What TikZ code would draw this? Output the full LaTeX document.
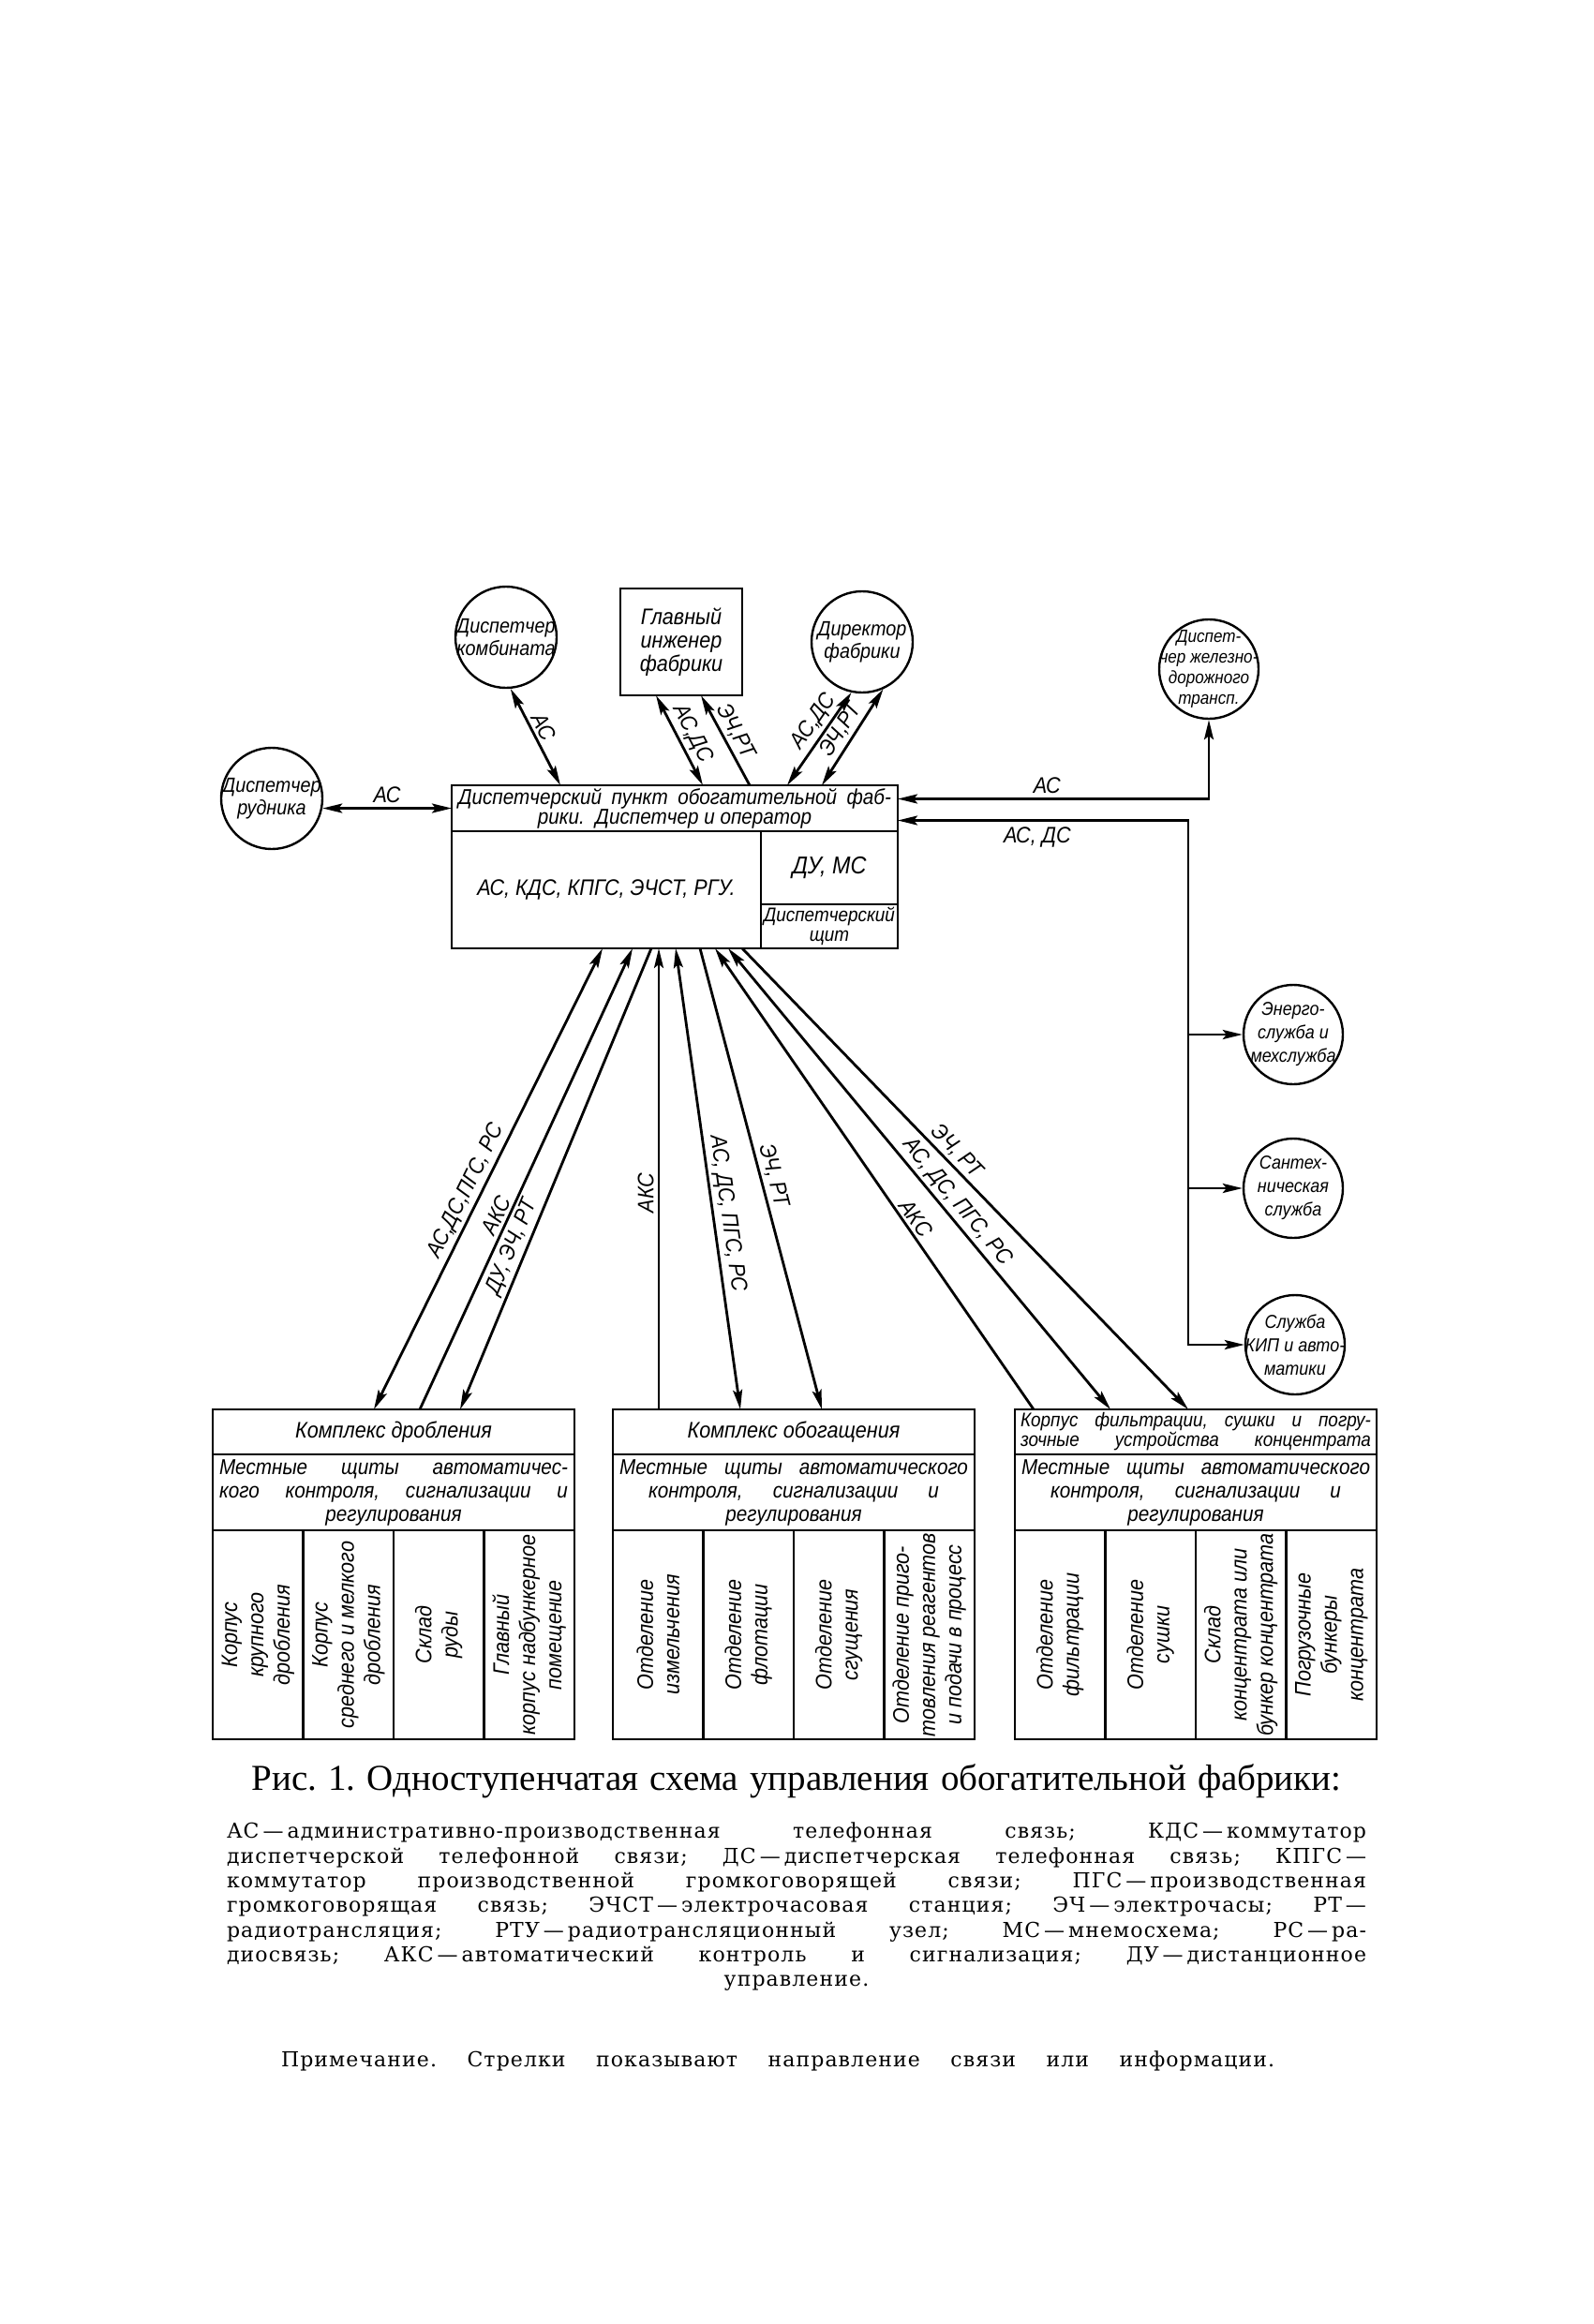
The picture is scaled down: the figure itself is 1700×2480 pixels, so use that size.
\documentclass[tikz,border=0pt]{standalone}
\usepackage{fontspec}
\usepackage{tikz}
\usetikzlibrary{positioning,arrows.meta}

\newfontfamily\draftfont[FakeStretch=0.9]{Liberation Sans}
\newfontfamily\capfont{Liberation Serif}
\newfontfamily\legfont[LetterSpace=5]{DejaVu Serif}

\newcommand{\dfont}[2]{\draftfont\itshape\fontsize{#1}{#2}\selectfont}
\newcommand{\fillto}[2]{\makebox[#1][s]{#2}}
\newcommand{\dsh}{\kern4pt—\kern4pt}
\frenchspacing

\begin{document}
\begin{tikzpicture}
  [x=1pt,y=-1pt,>={Stealth[length=21pt,width=10pt,inset=4pt]},
   every node/.style={font=\dfont{24}{25}},
   box/.style={draw,rectangle,line width=2.8pt,inner sep=0pt,outer sep=0pt,align=center},
   circ/.style={draw,circle,minimum size=108pt,inner sep=0pt,line width=2.4pt},
   ctxt/.style={align=center,font=\dfont{22}{24}},
   col/.style={box,minimum width=96.5pt,minimum height=223pt},
   vlbl/.style={rotate=90,align=center,font=\dfont{24}{28}},
   sub/.style={box,minimum width=386pt,minimum height=81pt,font=\dfont{23}{25}},
   link/.style={line width=2.8pt},
   lbl/.style={sloped,above,inner sep=3pt}]

  \useasboundingbox (0,0) rectangle (1700,2480);

  % top row
  \node[circ,label={[ctxt]center:Диспетчер\\комбината}] (komb) at (540,680) {};
  \node[box,minimum width=130pt,minimum height=114pt] (eng) at (727,685) {Главный\\инженер\\фабрики};
  \node[circ,label={[ctxt]center:Директор\\фабрики}] (dir) at (920,685) {};
  \node[circ,minimum size=106pt,label={[ctxt,font=\dfont{19}{22}]center:Диспет-\\чер железно-\\дорожного\\трансп.}] (rail) at (1290,714) {};
  \node[circ,label={[ctxt]center:Диспетчер\\рудника}] (rud) at (290,852) {};

  % dispatcher point
  \node[box,minimum width=476pt,minimum height=49pt,font=\dfont{23}{21}] (disp) at (720,862.5)
    {\fillto{462pt}{Диспетчерский пункт обогатительной фаб-}\\рики.\ \ Диспетчер и оператор};
  \node[box,minimum width=330pt,minimum height=125pt,below right=0pt of disp.south west] (dispbody)
    {АС, КДС, КПГС, ЭЧСТ, РГУ.};
  \node[box,minimum width=146pt,minimum height=78pt,font=\dfont{26}{26},below left=0pt of disp.south east] (dispdu) {ДУ, МС};
  \node[box,minimum width=146pt,minimum height=47pt,font=\dfont{21}{21},below=0pt of dispdu] (dispsch) {Диспетчерский\\щит};

  % services on the right
  \node[circ,minimum size=106pt,label={[ctxt,font=\dfont{20}{25}]center:Энерго-\\служба и\\мехслужба}] (energ) at (1380,1104) {};
  \node[circ,minimum size=106pt,label={[ctxt,font=\dfont{20}{25}]center:Сантех-\\ническая\\служба}] (sant) at (1380,1268) {};
  \node[circ,minimum size=106pt,label={[ctxt,font=\dfont{20}{25}]center:Служба\\КИП и авто-\\матики}] (kip) at (1382,1435) {};
  \coordinate (bus) at (1268,1435);

  % crushing complex
  \node[box,minimum width=386pt,minimum height=48pt] (drob) at (420,1528) {Комплекс дробления};
  \node[sub,below=0pt of drob] (drobsub)
    {\fillto{372pt}{Местные щиты автоматичес-}\\\fillto{372pt}{кого контроля, сигнализации и}\\регулирования};
  \node[col,below right=0pt of drobsub.south west,label={[vlbl]center:Корпус\\крупного\\дробления}] (drob1) {};
  \node[col,right=0pt of drob1,label={[vlbl]center:Корпус\\среднего и мелкого\\дробления}] (drob2) {};
  \node[col,right=0pt of drob2,label={[vlbl]center:Склад\\руды}] (drob3) {};
  \node[col,right=0pt of drob3,label={[vlbl]center:Главный\\корпус надбункерное\\помещение}] (drob4) {};

  % concentration complex
  \node[box,minimum width=386pt,minimum height=48pt] (obog) at (847,1528) {Комплекс обогащения};
  \node[sub,below=0pt of obog] (obogsub)
    {\fillto{372pt}{Местные щиты автоматического}\\\fillto{310pt}{контроля, сигнализации и}\\регулирования};
  \node[col,below right=0pt of obogsub.south west,label={[vlbl]center:Отделение\\измельчения}] (obog1) {};
  \node[col,right=0pt of obog1,label={[vlbl]center:Отделение\\флотации}] (obog2) {};
  \node[col,right=0pt of obog2,label={[vlbl]center:Отделение\\сгущения}] (obog3) {};
  \node[col,right=0pt of obog3,label={[vlbl]center:Отделение приго-\\товления реагентов\\и подачи в процесс}] (obog4) {};

  % filtration and drying building
  \node[box,minimum width=386pt,minimum height=48pt,font=\dfont{21}{21}] (konc) at (1276,1528)
    {\fillto{374pt}{Корпус фильтрации, сушки и погру-}\\\fillto{374pt}{зочные устройства концентрата}};
  \node[sub,below=0pt of konc] (koncsub)
    {\fillto{372pt}{Местные щиты автоматического}\\\fillto{310pt}{контроля, сигнализации и}\\регулирования};
  \node[col,below right=0pt of koncsub.south west,label={[vlbl]center:Отделение\\фильтрации}] (konc1) {};
  \node[col,right=0pt of konc1,label={[vlbl]center:Отделение\\сушки}] (konc2) {};
  \node[col,right=0pt of konc2,label={[vlbl]center:Склад\\концентрата или\\бункер концентрата}] (konc3) {};
  \node[col,right=0pt of konc3,label={[vlbl]center:Погрузочные\\бункеры\\концентрата}] (konc4) {};

  % links above
  \draw[link,<->] (rud.-11) -- (rud.-11 -| disp.west) node[midway,above,inner sep=4pt] {АС};
  \draw[link,<->] (komb.-85) -- ([xshift=116pt]disp.north west) node[lbl,pos=.45] {АС};
  \draw[link,<->] ([xshift=-27pt]eng.south) -- ([xshift=268pt]disp.north west) node[lbl,pos=.5] {АС,ДС};
  \draw[link,<-] ([xshift=21pt]eng.south) -- ([xshift=318pt]disp.north west) node[lbl,pos=.47] {ЭЧ,РТ};
  \draw[link,<->] ([xshift=358pt]disp.north west) -- (dir.-102) node[lbl,pos=.6] {АС,ДС};
  \draw[link,<->] ([xshift=395pt]disp.north west) -- (dir.-66) node[lbl,pos=.5] {ЭЧ,РТ};
  \draw[link,<->] ([yshift=10pt]disp.east) -| (rail.south) node[pos=.24,above,inner sep=4pt] {АС};
  \draw[link,<->] ([yshift=-13pt]disp.east) -| (bus) node[pos=.24,below,inner sep=6pt] {АС, ДС} -- (kip.west);
  \draw[link,->] (energ.west -| bus) -- (energ.west);
  \draw[link,->] (sant.west -| bus) -- (sant.west);

  % links below
  \draw[link,<->] ([xshift=172pt]drob.north west) -- ([xshift=161pt]dispbody.south west) node[lbl,pos=.46] {АС,ДС,ПГС, РС};
  \draw[link,->] ([xshift=221pt]drob.north west) -- ([xshift=193pt]dispbody.south west) node[lbl,pos=.41] {АКС};
  \draw[link,<-] ([xshift=264pt]drob.north west) -- ([xshift=213pt]dispbody.south west) node[lbl,pos=.34] {ДУ, ЭЧ, РТ};
  \draw[link,->] ([xshift=49pt]obog.north west) -- ([xshift=221pt]dispbody.south west) node[pos=.47,rotate=90,anchor=south,inner sep=4pt] {АКС};
  \draw[link,<->] ([xshift=239pt]dispbody.south west) -- ([xshift=136pt]obog.north west) node[lbl,pos=.58] {АС, ДС, ПГС, РС};
  \draw[link,->] ([xshift=265pt]dispbody.south west) -- ([xshift=223pt]obog.north west) node[lbl,pos=.5] {ЭЧ, РТ};
  \draw[link,<-] ([xshift=281pt]dispbody.south west) -- ([xshift=20pt]konc.north west) node[lbl,pos=.6] {АКС};
  \draw[link,<->] ([xshift=295pt]dispbody.south west) -- ([xshift=102pt]konc.north west) node[lbl,pos=.57] {АС, ДС, ПГС, РС};
  \draw[link,->] ([xshift=310pt]dispbody.south west) -- ([xshift=185pt]konc.north west) node[lbl,pos=.46] {ЭЧ, РТ};

  % caption
  \node[font=\capfont\fontsize{39}{42}\selectfont,anchor=base] (cap) at (850,1910)
    {\fillto{1163pt}{Рис. 1. Одноступенчатая схема управления обогатительной фабрики:}};
  \node[font=\legfont\fontsize{22}{26.3}\selectfont,anchor=north,align=center,inner sep=0pt] (leg) at (850,1945)
    {\fillto{1216pt}{АС\dsh административно-производственная телефонная связь; КДС\dsh коммутатор}\\
     \fillto{1216pt}{диспетчерской телефонной связи; ДС\dsh диспетчерская телефонная связь; КПГС\kern4pt—}\\
     \fillto{1216pt}{коммутатор производственной громкоговорящей связи; ПГС\dsh производственная}\\
     \fillto{1216pt}{громкоговорящая связь; ЭЧСТ\dsh электрочасовая станция; ЭЧ\dsh электрочасы; РТ\kern4pt—}\\
     \fillto{1216pt}{радиотрансляция; РТУ\dsh радиотрансляционный узел; МС\dsh мнемосхема; РС\dsh ра-}\\
     \fillto{1216pt}{диосвязь; АКС\dsh автоматический контроль и сигнализация; ДУ\dsh дистанционное}\\
     управление.};
  \node[font=\legfont\fontsize{22}{24}\selectfont,anchor=base] (note) at (830,2205)
    {\fillto{1060pt}{Примечание. Стрелки показывают направление связи или информации.}};
\end{tikzpicture}
\end{document}
